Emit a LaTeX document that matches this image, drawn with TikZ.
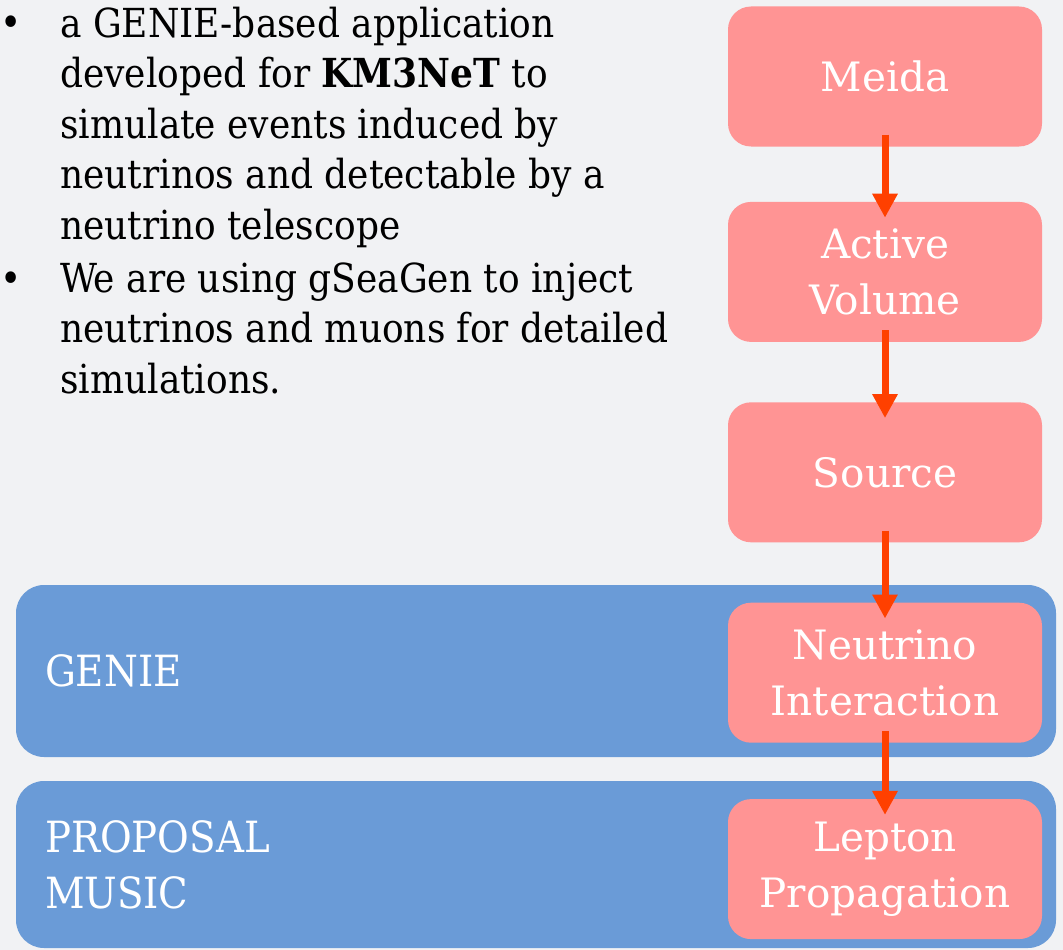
\documentclass[tikz,border=0pt]{standalone}
\usepackage{fontspec}
\setmainfont{DejaVu Serif}
\newfontfamily\condfont{DejaVu Serif Condensed}
\usepackage{tikz}
\usetikzlibrary{positioning, arrows.meta}
\definecolor{slidebg}{RGB}{241,242,244}
\definecolor{boxpink}{RGB}{255,148,148}
\definecolor{bandblue}{RGB}{106,155,215}
\definecolor{arrowred}{RGB}{255,64,0}

\begin{document}
\begin{tikzpicture}[x=1pt, y=-1pt,
    pinkbox/.style={fill=boxpink, rounded corners=23pt, minimum width=314pt, minimum height=140pt, inner sep=0pt, text=white, align=center, font=\fontsize{40.5}{55.5}\selectfont},
    band/.style={fill=bandblue, rounded corners=28pt, minimum width=1040pt, inner sep=0pt},
    bandlabel/.style={text=white, align=left, inner sep=0pt, font=\condfont\fontsize{43}{56}\selectfont},
    itemtext/.style={anchor=base west, align=left, inner sep=0pt, font=\condfont\fontsize{40}{50.5}\selectfont},
    flowarrow/.style={draw=arrowred, line width=7pt, -{Triangle[width=24pt,length=24pt]}}]
  \fill[slidebg] (0,0) rectangle (1063,950);
  \useasboundingbox (0,0) rectangle (1063,950);

  \node[itemtext] (dot1) at (0,37) {•};
  \node[itemtext] (item1) at (60,239) {a GENIE-based application\\developed for \textbf{KM3NeT} to\\simulate events induced by\\neutrinos and detectable by a\\neutrino telescope};
  \node[itemtext] (dot2) at (0,292) {•};
  \node[itemtext] (item2) at (60,393) {We are using gSeaGen to inject\\neutrinos and muons for detailed\\simulations.};

  \node[band, minimum height=172pt] (genie) at (536,671) {};
  \node[band, minimum height=167pt] (proposal) at (536,864.5) {};
  \node[bandlabel, right=29pt of genie.west] (genietxt) {GENIE};
  \node[bandlabel, right=29pt of proposal.west] (proposaltxt) {PROPOSAL\\MUSIC};

  \node[pinkbox] (meida) at (885,76.5) {Meida};
  \node[pinkbox, below=55pt of meida] (active) {Active\\Volume};
  \node[pinkbox, below=60pt of active] (source) {Source};
  \node[pinkbox, below=60pt of source] (nuint) {Neutrino\\Interaction};
  \node[pinkbox, below=56pt of nuint] (lepprop) {Lepton\\Propagation};

  \foreach \a/\b in {meida/active, active/source, source/nuint, nuint/lepprop}
    \draw[flowarrow] ([yshift=12pt]\a.south) -- ([yshift=-16pt]\b.north);
\end{tikzpicture}
\end{document}
